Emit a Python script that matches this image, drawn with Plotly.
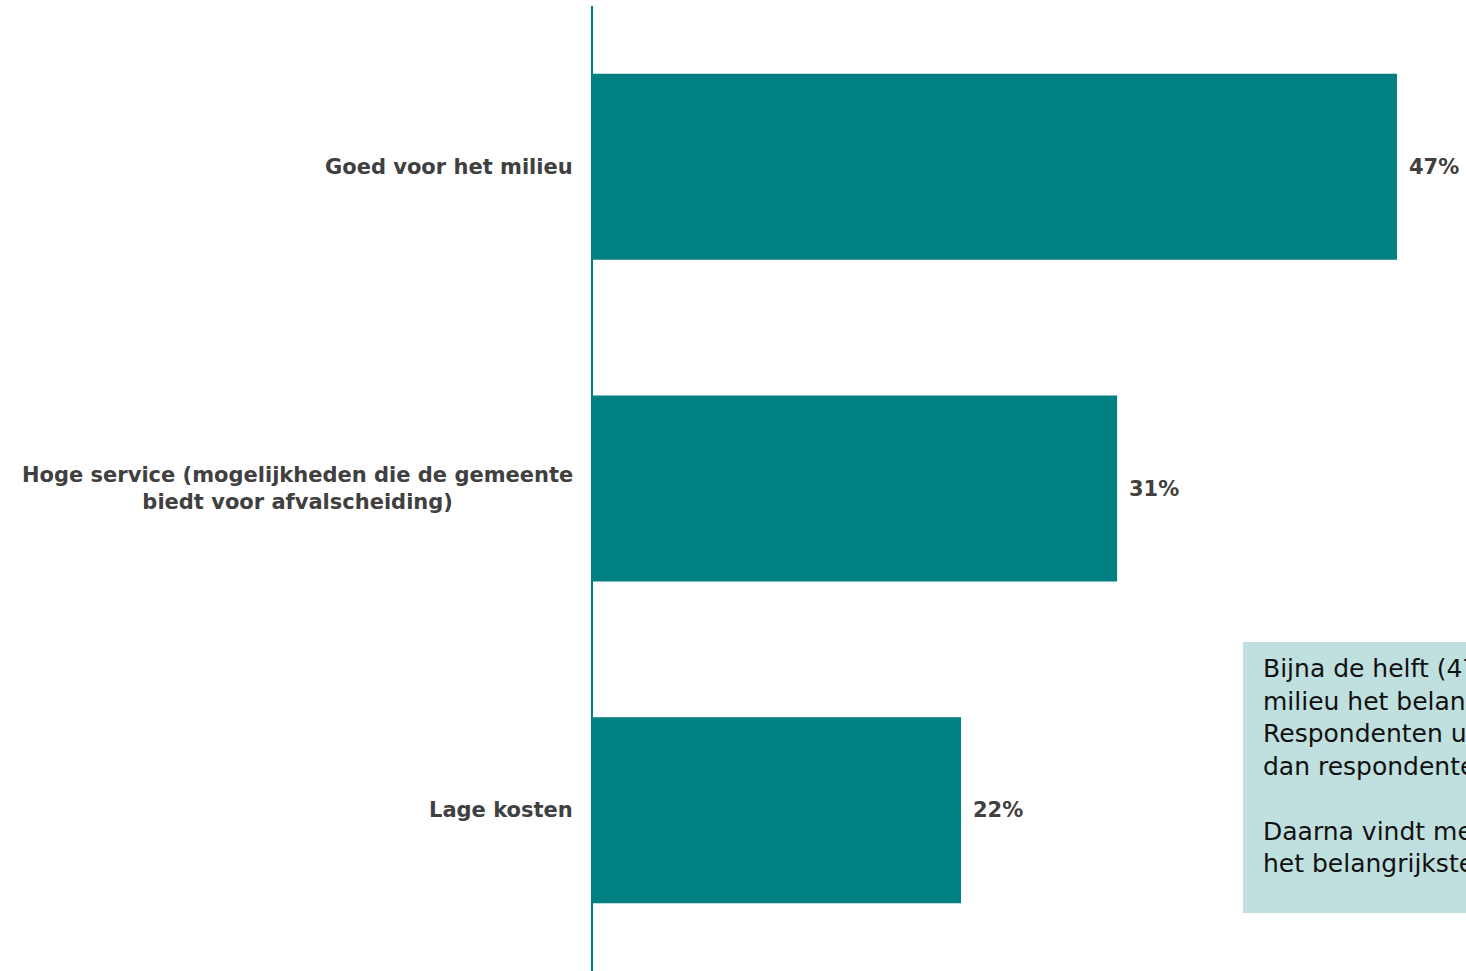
import plotly.graph_objects as go

categories = [
    "Goed voor het milieu",
    "Hoge service (mogelijkheden die de gemeente<br>biedt voor afvalscheiding)",
    "Lage kosten",
]
values = [47.4, 30.9, 21.7]
value_labels = ["47%", "31%", "22%"]

note_lines = [
    "Bijna de helft (47%) vindt goed voor het",
    "milieu het belangrijkste reden om afval te scheiden.",
    "Respondenten uit de gemeente vinden dit vaker",
    "dan respondenten uit de andere gemeenten.",
    "",
    "Daarna vindt men een hoge service",
    "het belangrijkste (31%).",
]

TEAL = "#008080"
LABEL = "#404040"
FONT = "DejaVu Sans"

W, H = 1466, 971
ML, MT = 593, 6
plot_w = W - ML
plot_h = H - MT

fig = go.Figure()
fig.add_trace(go.Bar(
    x=values,
    y=categories,
    orientation="h",
    marker=dict(color=TEAL, line=dict(width=0)),
    hoverinfo="skip",
))

# category labels (centered multi-line, right-anchored next to axis)
for c in categories:
    fig.add_annotation(
        x=0, xref="paper", y=c, yref="y",
        text=f"<b>{c}</b>", showarrow=False,
        xanchor="right", yanchor="middle", align="center",
        xshift=-18,
        font=dict(family=FONT, size=21, color=LABEL),
    )

# value labels
for c, v, t in zip(categories, values, value_labels):
    fig.add_annotation(
        x=v, xref="x", y=c, yref="y",
        text=f"<b>{t}</b>", showarrow=False,
        xanchor="left", yanchor="middle",
        xshift=10,
        font=dict(family=FONT, size=21, color=LABEL),
    )

def px_to_paper_x(px):
    return (px - ML) / plot_w

def px_to_paper_y(py):
    return (H - py) / plot_h

# note box
fig.add_shape(
    type="rect", xref="paper", yref="paper",
    x0=px_to_paper_x(1243), x1=px_to_paper_x(1900),
    y0=px_to_paper_y(913), y1=px_to_paper_y(642),
    fillcolor="#C0E0DF", line=dict(width=0), layer="above",
)
fig.add_annotation(
    x=px_to_paper_x(1261), xref="paper",
    y=px_to_paper_y(652), yref="paper",
    text="<br>".join(note_lines), showarrow=False,
    xanchor="left", yanchor="top", align="left",
    font=dict(family=FONT, size=25, color="#111111"),
)

fig.update_layout(
    width=W, height=H,
    margin=dict(l=ML, r=0, t=MT, b=0, pad=0),
    paper_bgcolor="white", plot_bgcolor="white",
    showlegend=False,
    bargap=0.422,
    xaxis=dict(range=[0, 51.47], visible=False, fixedrange=True),
    yaxis=dict(
        type="category",
        categoryorder="array", categoryarray=categories,
        range=[2.5, -0.5],
        showticklabels=False, ticks="",
        showgrid=False, zeroline=False,
        showline=True, linecolor=TEAL, linewidth=2,
        fixedrange=True,
    ),
)

fig.write_html(
    "out.html",
    config={"displayModeBar": False},
    post_script="document.body.style.margin='0';document.body.style.overflow='hidden';document.documentElement.style.overflow='hidden';",
)
